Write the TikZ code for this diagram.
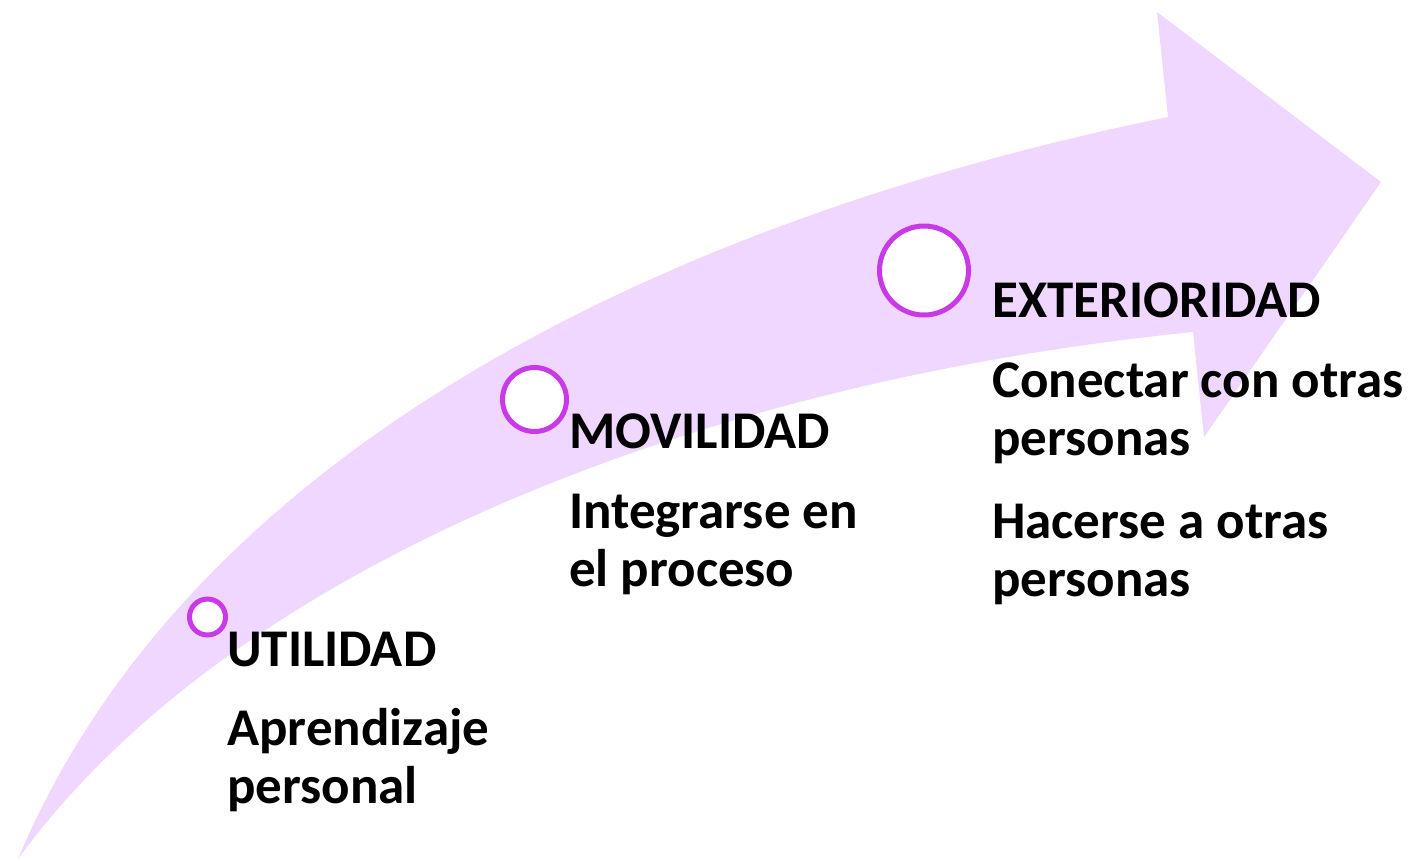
\documentclass[tikz,border=0pt]{standalone}
\usepackage{fontspec}
\setmainfont{Carlito}
\begin{document}
\begin{tikzpicture}[x=1pt,y=-1pt,
  band/.style={fill=bandfill,draw=none},
  ring/.style={circle,draw=ringcol,line width=5pt,fill=white,inner sep=0pt},
  lbl/.style={anchor=base west,inner sep=0pt,font=\fontsize{53}{58}\selectfont\bfseries,text=black}]
\definecolor{bandfill}{RGB}{240,215,255}
\definecolor{ringcol}{RGB}{200,58,232}
\useasboundingbox (0,0) rectangle (1410,860);
\fill[bandfill] (18,859) .. controls (192,445) and (678,217) .. (1168,117)
  -- (1157,12) -- (1381,182) -- (1204,437) -- (1193,332)
  .. controls (678,384) and (224,576) .. (18,859) -- cycle;
\node[ring,minimum size=36pt] (c1) at (207.5,617) {};
\node[ring,minimum size=64pt] (c2) at (534.5,399.5) {};
\node[ring,minimum size=89pt] (c3) at (924,270.5) {};
\node[lbl] (t1) at (227,666) {UTILIDAD};
\node[lbl] (t1a) at (227,745) {Aprendizaje};
\node[lbl] (t1b) at (227,803) {personal};
\node[lbl] (t2) at (569,448) {MOVILIDAD};
\node[lbl] (t2a) at (569,528) {Integrarse en};
\node[lbl] (t2b) at (569,586) {el proceso};
\node[lbl] (t3) at (992,317) {EXTERIORIDAD};
\node[lbl] (t3a) at (992,397) {Conectar con otras};
\node[lbl] (t3b) at (992,455) {personas};
\node[lbl] (t3c) at (992,538) {Hacerse a otras};
\node[lbl] (t3d) at (992,596) {personas};
\end{tikzpicture}
\end{document}
